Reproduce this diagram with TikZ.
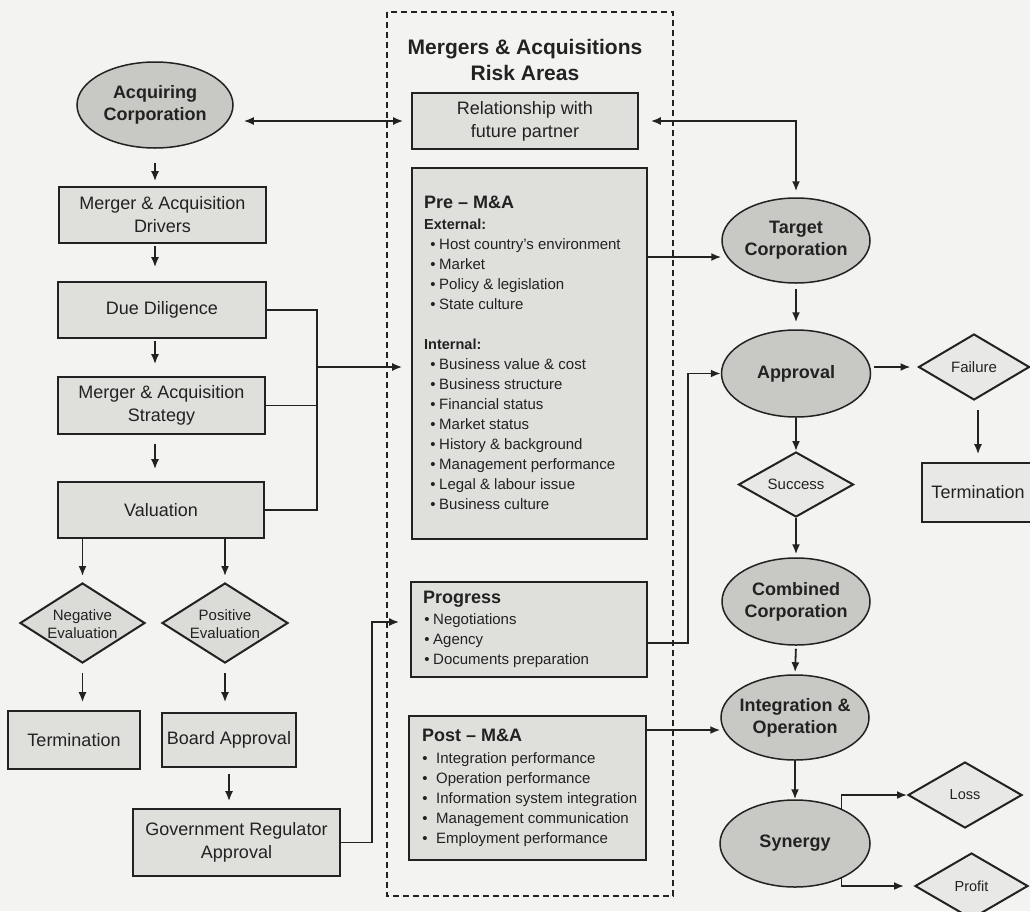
\documentclass[tikz,border=0pt]{standalone}
\usepackage{fontspec}
\setmainfont{Liberation Sans}
\usetikzlibrary{shapes.geometric,arrows.meta}
\definecolor{paper}{HTML}{F3F3F1}
\definecolor{boxfill}{HTML}{DFDFDC}
\definecolor{ellfill}{HTML}{C8C8C4}
\definecolor{diafill}{HTML}{DBDBD8}
\definecolor{lightfill}{HTML}{E8E8E6}
\definecolor{ink}{HTML}{222222}

\begin{document}
\begin{tikzpicture}[x=1pt,y=-1pt,
  every node/.style={inner sep=0pt, text=ink},
  box/.style={draw=ink, line width=1.6pt, fill=boxfill, rectangle, align=center,
              font=\fontsize{18}{23}\selectfont},
  lbox/.style={box, fill=lightfill},
  ell/.style={draw=ink, line width=1.5pt, fill=ellfill, ellipse},
  elltext/.style={align=center, font=\fontsize{18}{22}\selectfont\bfseries},
  dia/.style={draw=ink, line width=2pt, diamond, fill=diafill},
  ldia/.style={dia, fill=lightfill},
  diatext/.style={align=center, font=\fontsize{15}{18}\selectfont},
  line/.style={draw=ink, line width=1.8pt},
  arr/.style={line, -{Latex[length=10pt,width=8pt]}},
  twoarr/.style={line, {Latex[length=10pt,width=8pt]}-{Latex[length=10pt,width=8pt]}},
  head/.style={anchor=mid west, font=\fontsize{18}{20}\selectfont\bfseries},
  sub/.style={anchor=mid west, font=\fontsize{14.5}{16}\selectfont\bfseries},
  item/.style={anchor=mid west, font=\fontsize{15}{17}\selectfont},
  bul/.style={anchor=mid, font=\fontsize{15}{17}\selectfont},
]
\path[use as bounding box] (0,0) rectangle (1030,911);
\clip (0,0) rectangle (1030,911);
\fill[paper] (0,0) rectangle (1030,911);

% ---------- acquiring side ----------
\node[ell, minimum width=156pt, minimum height=86pt] (acq) at (155,105) {};
\node[elltext] (acq-t) at (acq) {Acquiring\\Corporation};
\node[box, minimum width=207pt, minimum height=56pt] (drv) at (162.5,215) {Merger \& Acquisition\\Drivers};
\node[box, minimum width=208pt, minimum height=56pt] (dd) at (162,310) {Due Diligence};
\node[box, minimum width=207pt, minimum height=57pt] (strat) at (161.5,405.5) {Merger \& Acquisition\\Strategy};
\node[box, minimum width=206pt, minimum height=56pt] (val) at (161,510) {Valuation};
\node[dia, minimum width=125pt, minimum height=80pt] (neg) at (82.5,623) {};
\node[diatext] (neg-t) at (82.5,624) {Negative\\Evaluation};
\node[dia, minimum width=126pt, minimum height=80pt] (pos) at (225,623) {};
\node[diatext] (pos-t) at (225,624) {Positive\\Evaluation};
\node[box, minimum width=132pt, minimum height=58pt] (term1) at (74,740) {Termination};
\node[box, minimum width=134pt, minimum height=54pt] (board) at (229,740) {Board Approval};
\node[box, minimum width=207pt, minimum height=67pt] (gov) at (236.5,842.5) {Government Regulator\\Approval};

% ---------- risk areas ----------
\draw[ink, line width=1.4pt, dash pattern=on 6pt off 4pt] (387,12) rectangle (673,896);
\node[align=center, font=\fontsize{21}{26}\selectfont\bfseries] (title) at (525,60)
  {Mergers \& Acquisitions\\Risk Areas};
\node[box, minimum width=226pt, minimum height=56pt] (rel) at (525,121) {Relationship with\\future partner};

\node[box, minimum width=235pt, minimum height=371pt] (pre) at (529.5,353.5) {};
\node[head] (pre-h) at (424,206) {Pre – M\&A};
\node[sub] (pre-ext) at (424,227) {External:};
\foreach \t [count=\i from 0] in {Host country’s environment,Market,Policy \& legislation,State culture}{
  \node[bul] (pre-eb\i) at (433,247+20*\i) {•};
  \node[item] (pre-e\i) at (439,247+20*\i) {\t};
}
\node[sub] (pre-int) at (424,347) {Internal:};
\foreach \t [count=\i from 0] in {Business value \& cost,Business structure,Financial status,Market status,
    History \& background,Management performance,Legal \& labour issue,Business culture}{
  \node[bul] (pre-ib\i) at (433,367+20*\i) {•};
  \node[item] (pre-i\i) at (439,367+20*\i) {\t};
}

\node[box, minimum width=236pt, minimum height=95pt] (prog) at (529,629.5) {};
\node[head] (prog-h) at (423,601) {Progress};
\foreach \t [count=\i from 0] in {Negotiations,Agency,Documents preparation}{
  \node[bul] (prog-b\i) at (427,622+20*\i) {•};
  \node[item] (prog-\i) at (433,622+20*\i) {\t};
}

\node[box, minimum width=237pt, minimum height=144pt] (post) at (527.5,788) {};
\node[head] (post-h) at (422,739) {Post – M\&A};
\foreach \t [count=\i from 0] in {Integration performance,Operation performance,Information system integration,
    Management communication,Employment performance}{
  \node[bul] (post-b\i) at (425,761+20*\i) {•};
  \node[item] (post-\i) at (436,761+20*\i) {\t};
}

% ---------- target side ----------
\node[ell, minimum width=148pt, minimum height=85pt] (tgt) at (796,240.5) {};
\node[elltext] (tgt-t) at (tgt) {Target\\Corporation};
\node[ell, minimum width=149pt, minimum height=87pt] (appr) at (796,373.5) {};
\node[elltext] (appr-t) at (appr) {Approval};
\node[ldia, minimum width=111pt, minimum height=66pt] (fail) at (974,367) {};
\node[diatext] (fail-t) at (fail) {Failure};
\node[lbox, minimum width=112pt, minimum height=59pt] (term2) at (978,492.5) {Termination};
\node[ldia, minimum width=115pt, minimum height=65pt] (succ) at (796,484.5) {};
\node[diatext] (succ-t) at (succ) {Success};
\node[ell, minimum width=148pt, minimum height=87pt] (comb) at (796,601.5) {};
\node[elltext] (comb-t) at (comb) {Combined\\Corporation};
\node[ell, minimum width=148pt, minimum height=85pt] (integ) at (795,717.5) {};
\node[elltext] (integ-t) at (integ) {Integration \&\\Operation};
\node[ell, minimum width=150pt, minimum height=87pt] (syn) at (795,843.5) {};
\node[elltext] (syn-t) at (syn) {Synergy};
\node[ldia, minimum width=114pt, minimum height=66pt] (loss) at (965,795) {};
\node[diatext, font=\fontsize{14.5}{17}\selectfont] (loss-t) at (loss) {Loss};
\node[ldia, minimum width=113pt, minimum height=66pt] (profit) at (971.5,886) {};
\node[diatext, font=\fontsize{14.5}{17}\selectfont] (profit-t) at (profit) {Profit};

% ---------- helper points ----------
\coordinate (br) at (317,367);
\coordinate (gp) at (372,622);
\coordinate (pa) at (688,643);
\coordinate (tgt-in) at ([yshift=-16.5pt]tgt.west);
\coordinate (integ-in) at ([yshift=-12.5pt]integ.west);

% ---------- connectors, left column ----------
\draw[twoarr, shorten <=10pt, shorten >=8pt] (acq.east |- rel.west) -- (rel.west);
\draw[arr, shorten <=14pt, shorten >=5pt] (acq.south) -- (acq.south |- drv.north);
\draw[arr, shorten <=2pt, shorten >=14pt] (drv.south -| acq.south) -- (dd.north -| acq.south);
\draw[arr, shorten <=2pt, shorten >=12pt] (dd.south -| acq.south) -- (strat.north -| acq.south);
\draw[arr, shorten <=9pt, shorten >=12pt] (strat.south -| acq.south) -- (val.north -| acq.south);
\draw[arr, shorten >=6pt] (val.south -| neg.north) -- (neg.north);
\draw[arr, shorten >=6pt] (val.south -| pos.north) -- (pos.north);
\draw[arr, shorten <=9pt, shorten >=8pt] (neg.south) -- (term1.north -| neg.south);
\draw[arr, shorten <=9pt, shorten >=10pt] (pos.south) -- (board.north -| pos.south);
\draw[arr, shorten <=6pt, shorten >=7pt] (board.south) -- (gov.north -| board.south);

\draw[line] (dd.east) -- (dd.east -| br) -- (val.east -| br) -- (val.east);
\draw[line] (strat.east) -- (strat.east -| br);
\draw[arr, shorten >=9pt] (br) -- (pre.west |- br);
\draw[arr, shorten >=11pt] (gov.east) -| (gp) -- (prog.west |- gp);

% ---------- connectors, right column ----------
\draw[twoarr, shorten <=12pt, shorten >=6pt] (rel.east) -| (tgt.north);
\draw[arr] (pre.east |- tgt-in) -- (tgt-in);
\draw[arr] (prog.east |- pa) -- (pa) |- (appr.west);
\draw[arr] (post.east |- integ-in) -- (integ-in);
\draw[arr, shorten <=5pt, shorten >=7pt] (tgt.south) -- (appr.north);
\draw[arr, shorten <=3pt, shorten >=7pt] (appr.east |- fail.west) -- (fail.west);
\draw[arr, shorten <=9pt, shorten >=8pt] (term2.north |- fail.south) -- (term2.north);
\draw[arr] (appr.south) -- (succ.north);
\draw[arr, shorten >=3pt] (succ.south) -- (comb.north);
\draw[arr, shorten <=3pt, shorten >=2pt] (comb.south) -- (integ.north);
\draw[arr] (integ.south) -- (syn.north);
\draw[arr] (syn.37) |- (loss.west);
\draw[arr, shorten >=10pt] (syn.-37) |- (profit.west);
\end{tikzpicture}
\end{document}
